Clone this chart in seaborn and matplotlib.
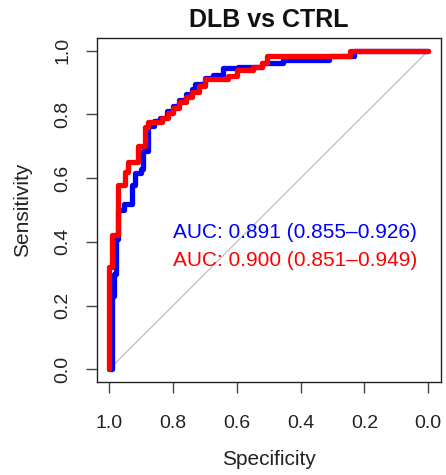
import matplotlib
matplotlib.use("Agg")
import matplotlib.pyplot as plt
import seaborn as sns
import pandas as pd

# ROC vertices (specificity, sensitivity)
blue_spec = [1.0, 0.99, 0.99, 0.985, 0.985, 0.978, 0.978, 0.972, 0.972, 0.955, 0.955, 0.93, 0.93,
             0.92, 0.92, 0.90, 0.90, 0.895, 0.895, 0.88, 0.88, 0.86, 0.86, 0.84, 0.84, 0.82, 0.82,
             0.80, 0.80, 0.78, 0.78, 0.76, 0.76, 0.74, 0.74, 0.73, 0.73, 0.70, 0.70, 0.676, 0.676,
             0.645, 0.645, 0.595, 0.595, 0.52, 0.52, 0.455, 0.455, 0.31, 0.31, 0.234, 0.234, 0.0]
blue_sens = [0.0, 0.0, 0.23, 0.23, 0.30, 0.30, 0.41, 0.41, 0.50, 0.50, 0.52, 0.52, 0.58,
             0.58, 0.615, 0.615, 0.63, 0.63, 0.685, 0.685, 0.765, 0.765, 0.78, 0.78, 0.79, 0.79, 0.81,
             0.81, 0.825, 0.825, 0.845, 0.845, 0.865, 0.865, 0.88, 0.88, 0.895, 0.895, 0.915, 0.915, 0.925,
             0.925, 0.945, 0.945, 0.95, 0.95, 0.96, 0.96, 0.97, 0.97, 0.985, 0.985, 1.0, 1.0]

red_spec = [1.0, 1.0, 0.99, 0.99, 0.973, 0.973, 0.95, 0.95, 0.94, 0.94, 0.91, 0.91, 0.887, 0.887,
            0.878, 0.878, 0.834, 0.834, 0.815, 0.815, 0.80, 0.80, 0.78, 0.78, 0.76, 0.76, 0.74, 0.74,
            0.72, 0.72, 0.70, 0.70, 0.627, 0.627, 0.60, 0.60, 0.55, 0.55, 0.52, 0.52, 0.504, 0.504,
            0.244, 0.244, 0.0]
red_sens = [0.0, 0.32, 0.32, 0.42, 0.42, 0.58, 0.58, 0.62, 0.62, 0.65, 0.65, 0.70, 0.70, 0.76,
            0.76, 0.775, 0.775, 0.79, 0.79, 0.805, 0.805, 0.82, 0.82, 0.84, 0.84, 0.855, 0.855, 0.87,
            0.87, 0.89, 0.89, 0.91, 0.91, 0.92, 0.92, 0.94, 0.94, 0.95, 0.95, 0.96, 0.96, 0.985,
            0.985, 1.0, 1.0]

auc_labels = ["AUC: 0.891 (0.855\u20130.926)", "AUC: 0.900 (0.851\u20130.949)"]
tick_vals = [0.0, 0.2, 0.4, 0.6, 0.8, 1.0]
tick_labels = ["0.0", "0.2", "0.4", "0.6", "0.8", "1.0"]
title = "DLB vs CTRL"

sns.set_theme(style="white")
plt.rcParams["font.family"] = ["Liberation Sans", "DejaVu Sans"]

fig = plt.figure(figsize=(4.46, 4.75), dpi=100)
ax = fig.add_axes([0.2164, 0.1958, 0.7724, 0.7242])

ax.plot([1, 0], [0, 1], color="#bebebe", lw=0.9, zorder=1)

df_b = pd.DataFrame({"spec": blue_spec, "sens": blue_sens})
df_r = pd.DataFrame({"spec": red_spec, "sens": red_sens})
sns.lineplot(data=df_b, x="spec", y="sens", sort=False, estimator=None, color="#0000ff",
             lw=3.8, ax=ax, zorder=2)
sns.lineplot(data=df_r, x="spec", y="sens", sort=False, estimator=None, color="#ff0000",
             lw=3.8, ax=ax, zorder=3)

ax.set_xlim(1.04, -0.04)
ax.set_ylim(-0.04, 1.04)
ax.set_xticks(tick_vals)
ax.set_xticklabels(tick_labels)
ax.set_yticks(tick_vals)
ax.set_yticklabels(tick_labels, rotation=90, va="center")

for s in ax.spines.values():
    s.set_color("#222222")
    s.set_linewidth(1.0)
ax.tick_params(axis="both", direction="out", length=8, width=1.0, color="#444444",
               labelsize=14, labelcolor="#222222", left=True, bottom=True)
ax.tick_params(axis="x", pad=16)
ax.tick_params(axis="y", pad=10)

ax.set_xlabel("Specificity", fontsize=15, color="#222222", labelpad=13)
ax.set_ylabel("Sensitivity", fontsize=15, color="#222222", labelpad=16)
ax.set_title(title, fontsize=18, fontweight="bold", color="#111111", pad=8)

ax.text(0.80, 0.43, auc_labels[0], color="#0000ff", fontsize=15, ha="left", va="center")
ax.text(0.80, 0.34, auc_labels[1], color="#ff0000", fontsize=15, ha="left", va="center")

fig.savefig("out.png", dpi=100)
